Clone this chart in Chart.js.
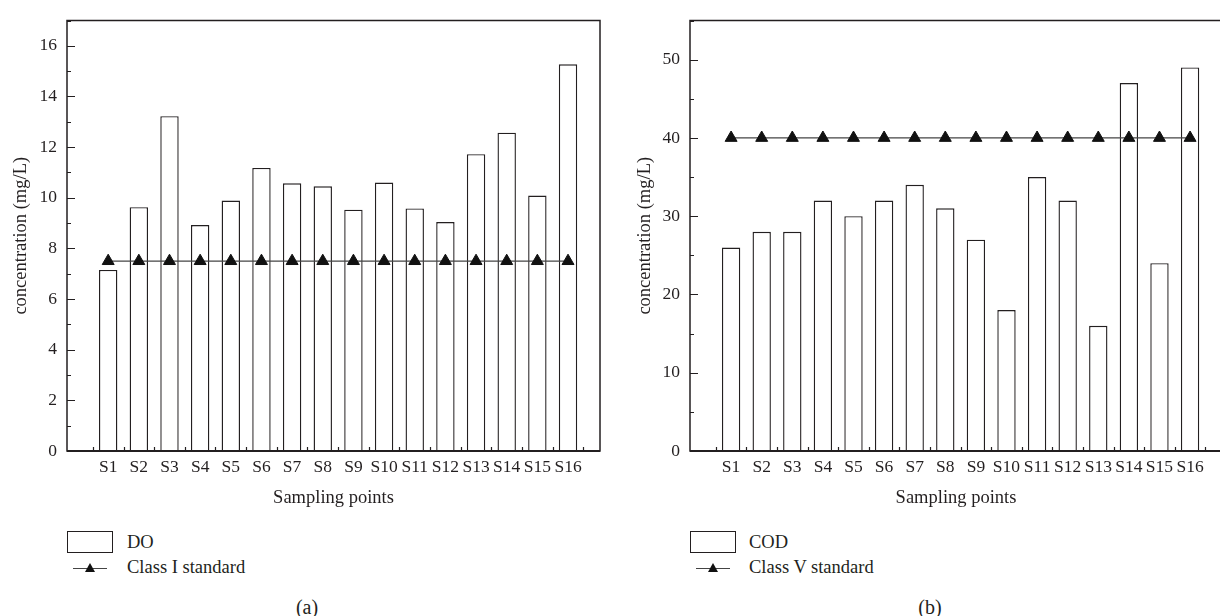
<!DOCTYPE html>
<html>
<head>
<meta charset="utf-8">
<script src="https://cdn.jsdelivr.net/npm/chart.js@4.4.1/dist/chart.umd.min.js"></script>
<style>
  html, body { margin: 0; padding: 0; background: #fff; width: 1220px; height: 616px; overflow: hidden; }
  canvas { position: absolute; top: 0; }
  #chartA { left: 0; }
  #chartB { left: 620px; }
  .txt { position: absolute; font-family: "Liberation Serif", serif; font-size: 18.5px; line-height: 22px; color: #231f20; white-space: nowrap; }
  .box { position: absolute; width: 46px; height: 22px; border: 1.4px solid #231f20; box-sizing: border-box; background: #fff; }
  .sym { position: absolute; width: 34px; height: 0; border-top: 1.3px solid #444; }
  .sym::after { content: ''; position: absolute; left: 12px; top: -6px; width: 0; height: 0;
    border-left: 5.5px solid transparent; border-right: 5.5px solid transparent; border-bottom: 9.5px solid #111; }
  .cap { transform: translateX(-50%); font-size: 20px; }
</style>
</head>
<body>
<canvas id="chartA" width="610" height="515"></canvas>
<canvas id="chartB" width="612" height="515"></canvas>

<!-- legends + captions -->
<div class="box" style="left:67px; top:531px;"></div>
<div class="txt" style="left:127px; top:531px;">DO</div>
<div class="sym" style="left:73px; top:568px;"></div>
<div class="txt" style="left:127px; top:556px;">Class I standard</div>
<div class="txt cap" style="left:307px; top:596px;">(a)</div>

<div class="box" style="left:690px; top:531px;"></div>
<div class="txt" style="left:749px; top:531px;">COD</div>
<div class="sym" style="left:696px; top:568px;"></div>
<div class="txt" style="left:749px; top:556px;">Class V standard</div>
<div class="txt cap" style="left:930px; top:596px;">(b)</div>

<script>
// ── Data ──
const categories = ['S1', 'S2', 'S3', 'S4', 'S5', 'S6', 'S7', 'S8',
                    'S9', 'S10', 'S11', 'S12', 'S13', 'S14', 'S15', 'S16'];

const doValues = [7.15, 9.63, 13.22, 8.92, 9.89, 11.18, 10.57, 10.45,
                  9.53, 10.60, 9.58, 9.04, 11.72, 12.57, 10.09, 15.27];
const doStandard = [7.5, 7.5, 7.5, 7.5, 7.5, 7.5, 7.5, 7.5,
                    7.5, 7.5, 7.5, 7.5, 7.5, 7.5, 7.5, 7.5];
const doTicks = [0, 2, 4, 6, 8, 10, 12, 14, 16];

const codValues = [26, 28, 28, 32, 30, 32, 34, 31,
                   27, 18, 35, 32, 16, 47, 24, 49];
const codStandard = [40, 40, 40, 40, 40, 40, 40, 40,
                     40, 40, 40, 40, 40, 40, 40, 40];
const codTicks = [0, 10, 20, 30, 40, 50];

const INK = '#231f20';
const FONT = 'Liberation Serif';

// ── Box frame + inward tick marks ──
const framePlugin = {
  id: 'frame',
  afterDraw(chart) {
    const { ctx, chartArea: a, scales: { x, y } } = chart;
    const ticks = chart.options.plugins.frame.ticks;
    const half = (ticks[1] - ticks[0]) / 2;
    ctx.save();
    ctx.strokeStyle = INK;
    ctx.lineWidth = 1.5;
    ctx.strokeRect(a.left, a.top, a.right - a.left, a.bottom - a.top);
    ctx.lineWidth = 2;
    ctx.beginPath();
    ctx.moveTo(a.left, a.bottom);
    ctx.lineTo(a.right, a.bottom);
    ctx.stroke();

    ctx.lineWidth = 1.2;
    ctx.beginPath();
    for (let v = ticks[0]; v <= y.max; v += half) {
      const py = Math.round(y.getPixelForValue(v)) + 0.5;
      const len = ticks.includes(v) ? 8 : 4;
      ctx.moveTo(a.left, py);
      ctx.lineTo(a.left + len, py);
    }
    for (let i = 0; i <= categories.length; i++) {
      const px = Math.round(x.getPixelForValue(i + 0.5)) + 0.5;
      ctx.moveTo(px, a.bottom);
      ctx.lineTo(px, a.bottom - 4);
    }
    ctx.stroke();
    ctx.restore();
  }
};

function makeChart(id, values, standard, ticks, yMax, barLabel, lineLabel, axisWidth, titlePad) {
  const ctx = document.getElementById(id).getContext('2d');
  return new Chart(ctx, {
    data: {
      datasets: [
        {
          type: 'line',
          label: lineLabel,
          data: standard.map((v, i) => ({ x: i + 1, y: v })),
          borderColor: '#444',
          borderWidth: 1.3,
          pointStyle: 'triangle',
          pointRadius: 6.9,
          pointBackgroundColor: '#111',
          pointBorderColor: '#111',
          pointBorderWidth: 1,
          order: 0
        },
        {
          type: 'bar',
          label: barLabel,
          data: values.map((v, i) => ({ x: i + 1, y: v })),
          backgroundColor: '#ffffff',
          borderColor: INK,
          borderWidth: 1.4,
          barPercentage: 0.6,
          categoryPercentage: 1.0,
          order: 1
        }
      ]
    },
    options: {
      responsive: false,
      animation: false,
      layout: { padding: { top: 15, right: 10, left: 0, bottom: 0 } },
      plugins: {
        legend: { display: false },
        tooltip: { enabled: false },
        frame: { ticks: ticks }
      },
      scales: {
        x: {
          type: 'linear',
          min: 0.2,
          max: 16.5,
          grid: { display: false, drawTicks: false },
          border: { display: false },
          afterBuildTicks: s => { s.ticks = categories.map((c, i) => ({ value: i + 1 })); },
          ticks: {
            callback: v => categories[Math.round(v) - 1],
            font: { family: FONT, size: 17.5 },
            color: INK,
            padding: 6,
            maxRotation: 0,
            autoSkip: false
          },
          title: {
            display: true,
            text: 'Sampling points',
            font: { family: FONT, size: 18.5 },
            color: INK,
            padding: { top: 0, bottom: 6 }
          },
          afterFit: s => { s.height = 64; }
        },
        y: {
          min: 0,
          max: yMax,
          grid: { display: false, drawTicks: false },
          border: { display: false },
          afterBuildTicks: s => { s.ticks = ticks.map(v => ({ value: v })); },
          ticks: {
            font: { family: FONT, size: 17.5 },
            color: INK,
            padding: 10
          },
          title: {
            display: true,
            text: 'concentration (mg/L)',
            font: { family: FONT, size: 18.5 },
            color: INK,
            padding: { top: titlePad, bottom: 0 }
          },
          afterFit: s => { s.width = axisWidth; }
        }
      }
    },
    plugins: [framePlugin]
  });
}

makeChart('chartA', doValues, doStandard, doTicks, 17, 'DO', 'Class I standard', 67, 10);
makeChart('chartB', codValues, codStandard, codTicks, 55, 'COD', 'Class V standard', 70, 14);
</script>
</body>
</html>
